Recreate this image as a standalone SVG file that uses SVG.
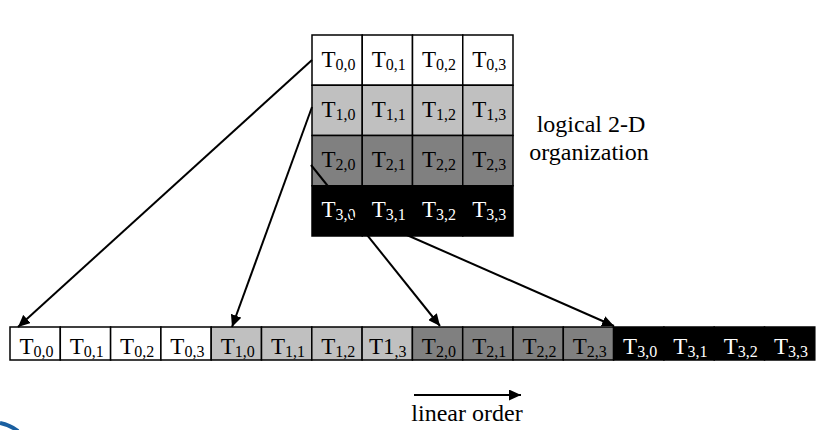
<svg xmlns="http://www.w3.org/2000/svg" width="836" height="430" viewBox="0 0 836 430">
<style>
.c{stroke:#000;stroke-width:1.5}
.w{fill:#fff}.lg{fill:#c0c0c0}.dg{fill:#808080}.bk{fill:#000}
.t{font-family:"Liberation Serif",serif;font-size:23px;fill:#000;text-anchor:middle}
.tw{fill:#fff}
.s{font-size:16px}
.lbl{font-family:"Liberation Serif",serif;font-size:24px;fill:#000;text-anchor:middle}
.ln{stroke:#000;stroke-width:2;fill:none}
</style>
<defs>
<marker id="ah" markerUnits="userSpaceOnUse" markerWidth="13" markerHeight="11" refX="12" refY="5.5" orient="auto">
<path d="M0,0 L12,5.5 L0,11 z" fill="#000"/>
</marker>
</defs>
<rect width="836" height="430" fill="#fff"/>
<g id="grid">
<g id="g00"><rect class="c w" x="312" y="35" width="50.25" height="50.25"/><text class="t" x="338.5" y="66.5">T<tspan class="s" dy="3">0,0</tspan></text></g>
<g id="g01"><rect class="c w" x="362.25" y="35" width="50.25" height="50.25"/><text class="t" x="388.8" y="66.5">T<tspan class="s" dy="3">0,1</tspan></text></g>
<g id="g02"><rect class="c w" x="412.5" y="35" width="50.25" height="50.25"/><text class="t" x="439" y="66.5">T<tspan class="s" dy="3">0,2</tspan></text></g>
<g id="g03"><rect class="c w" x="462.75" y="35" width="50.25" height="50.25"/><text class="t" x="489.3" y="66.5">T<tspan class="s" dy="3">0,3</tspan></text></g>
<g id="g10"><rect class="c lg" x="312" y="85.25" width="50.25" height="50.25"/><text class="t" x="338.5" y="116.75">T<tspan class="s" dy="3">1,0</tspan></text></g>
<g id="g11"><rect class="c lg" x="362.25" y="85.25" width="50.25" height="50.25"/><text class="t" x="388.8" y="116.75">T<tspan class="s" dy="3">1,1</tspan></text></g>
<g id="g12"><rect class="c lg" x="412.5" y="85.25" width="50.25" height="50.25"/><text class="t" x="439" y="116.75">T<tspan class="s" dy="3">1,2</tspan></text></g>
<g id="g13"><rect class="c lg" x="462.75" y="85.25" width="50.25" height="50.25"/><text class="t" x="489.3" y="116.75">T<tspan class="s" dy="3">1,3</tspan></text></g>
<g id="g20"><rect class="c dg" x="312" y="135.5" width="50.25" height="50.25"/><text class="t" x="338.5" y="167">T<tspan class="s" dy="3">2,0</tspan></text></g>
<g id="g21"><rect class="c dg" x="362.25" y="135.5" width="50.25" height="50.25"/><text class="t" x="388.8" y="167">T<tspan class="s" dy="3">2,1</tspan></text></g>
<g id="g22"><rect class="c dg" x="412.5" y="135.5" width="50.25" height="50.25"/><text class="t" x="439" y="167">T<tspan class="s" dy="3">2,2</tspan></text></g>
<g id="g23"><rect class="c dg" x="462.75" y="135.5" width="50.25" height="50.25"/><text class="t" x="489.3" y="167">T<tspan class="s" dy="3">2,3</tspan></text></g>
<g id="g30"><rect class="c bk" x="312" y="185.75" width="50.25" height="50.25"/><text class="t tw" x="338.5" y="217.25">T<tspan class="s" dy="3">3,0</tspan></text></g>
<g id="g31"><rect class="c bk" x="362.25" y="185.75" width="50.25" height="50.25"/><text class="t tw" x="388.8" y="217.25">T<tspan class="s" dy="3">3,1</tspan></text></g>
<g id="g32"><rect class="c bk" x="412.5" y="185.75" width="50.25" height="50.25"/><text class="t tw" x="439" y="217.25">T<tspan class="s" dy="3">3,2</tspan></text></g>
<g id="g33"><rect class="c bk" x="462.75" y="185.75" width="50.25" height="50.25"/><text class="t tw" x="489.3" y="217.25">T<tspan class="s" dy="3">3,3</tspan></text></g>
</g>
<g id="linear">
<g id="l00"><rect class="c w" x="10" y="327" width="50.3" height="33"/><text class="t" x="36.5" y="354">T<tspan class="s" dy="2.5">0,0</tspan></text></g>
<g id="l01"><rect class="c w" x="60.3" y="327" width="50.3" height="33"/><text class="t" x="86.8" y="354">T<tspan class="s" dy="2.5">0,1</tspan></text></g>
<g id="l02"><rect class="c w" x="110.6" y="327" width="50.3" height="33"/><text class="t" x="137.1" y="354">T<tspan class="s" dy="2.5">0,2</tspan></text></g>
<g id="l03"><rect class="c w" x="160.9" y="327" width="50.3" height="33"/><text class="t" x="187.4" y="354">T<tspan class="s" dy="2.5">0,3</tspan></text></g>
<g id="l10"><rect class="c lg" x="211.2" y="327" width="50.3" height="33"/><text class="t" x="237.7" y="354">T<tspan class="s" dy="2.5">1,0</tspan></text></g>
<g id="l11"><rect class="c lg" x="261.5" y="327" width="50.3" height="33"/><text class="t" x="288" y="354">T<tspan class="s" dy="2.5">1,1</tspan></text></g>
<g id="l12"><rect class="c lg" x="311.8" y="327" width="50.3" height="33"/><text class="t" x="338.3" y="354">T<tspan class="s" dy="2.5">1,2</tspan></text></g>
<g id="l13"><rect class="c lg" x="362.1" y="327" width="50.3" height="33"/><text class="t" x="387.8" y="354">T1<tspan class="s" dy="2.5">,3</tspan></text></g>
<g id="l20"><rect class="c dg" x="412.4" y="327" width="50.3" height="33"/><text class="t" x="438.9" y="354">T<tspan class="s" dy="2.5">2,0</tspan></text></g>
<g id="l21"><rect class="c dg" x="462.7" y="327" width="50.3" height="33"/><text class="t" x="489.2" y="354">T<tspan class="s" dy="2.5">2,1</tspan></text></g>
<g id="l22"><rect class="c dg" x="513" y="327" width="50.3" height="33"/><text class="t" x="539.5" y="354">T<tspan class="s" dy="2.5">2,2</tspan></text></g>
<g id="l23"><rect class="c dg" x="563.3" y="327" width="50.3" height="33"/><text class="t" x="589.8" y="354">T<tspan class="s" dy="2.5">2,3</tspan></text></g>
<g id="l30"><rect class="c bk" x="613.6" y="327" width="50.3" height="33"/><text class="t tw" x="640.1" y="354">T<tspan class="s" dy="2.5">3,0</tspan></text></g>
<g id="l31"><rect class="c bk" x="663.9" y="327" width="50.3" height="33"/><text class="t tw" x="690.4" y="354">T<tspan class="s" dy="2.5">3,1</tspan></text></g>
<g id="l32"><rect class="c bk" x="714.2" y="327" width="50.3" height="33"/><text class="t tw" x="740.7" y="354">T<tspan class="s" dy="2.5">3,2</tspan></text></g>
<g id="l33"><rect class="c bk" x="764.5" y="327" width="50.3" height="33"/><text class="t tw" x="791" y="354">T<tspan class="s" dy="2.5">3,3</tspan></text></g>
</g>
<g id="connectors">
<line class="ln" x1="312" y1="60" x2="18" y2="327" marker-end="url(#ah)"/>
<line class="ln" x1="312" y1="107" x2="232" y2="327" marker-end="url(#ah)"/>
<line class="ln" x1="311" y1="165" x2="440" y2="326" marker-end="url(#ah)"/>
<line class="ln" x1="400" y1="232" x2="614" y2="326" marker-end="url(#ah)"/>
<line class="ln" x1="414" y1="395" x2="521" y2="395" marker-end="url(#ah)"/>
</g>
<g id="labels">
<text class="lbl" x="591" y="132">logical 2-D</text>
<text class="lbl" x="589" y="160">organization</text>
<text class="lbl" x="467" y="421">linear order</text>
</g>
<path d="M0,423 Q10,425 18,431" fill="none" stroke="#1a5fa0" stroke-width="4"/>
</svg>
